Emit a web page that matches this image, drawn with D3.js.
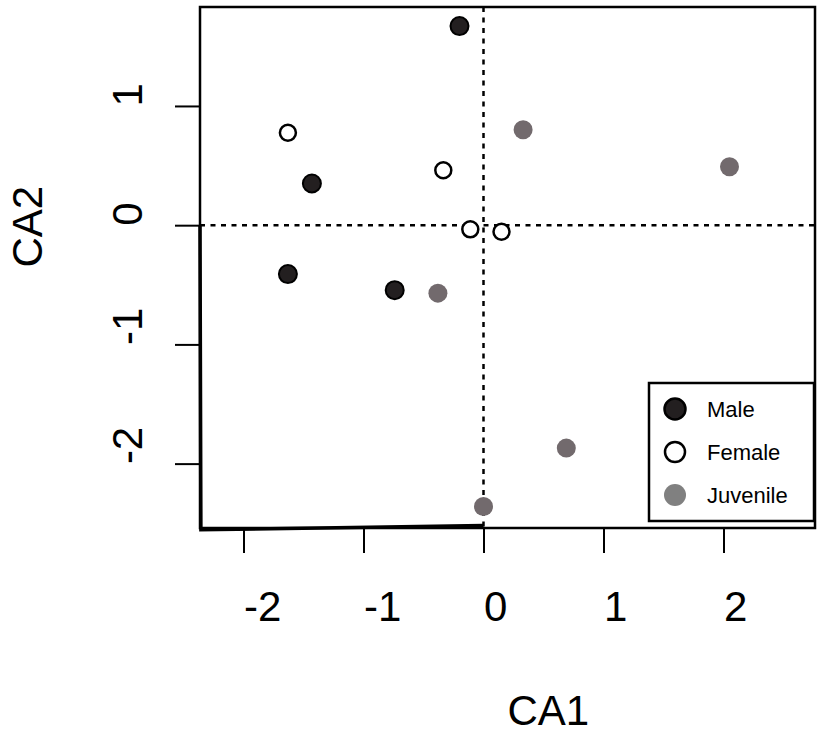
<!DOCTYPE html>
<html>
<head>
<meta charset="utf-8">
<script src="https://cdn.jsdelivr.net/npm/d3@7"></script>
<style>
  body { margin: 0; background: #fff; }
  svg { display: block; }
  text { font-family: "Liberation Sans", Arial, Helvetica, sans-serif; fill: #000; }
</style>
</head>
<body>
<div id="chart"></div>
<script>
  // group of each sample
  const groups = ["Male", "Female", "Juvenile"];

  // CA scores
  const maleCA1 = [-0.20, -1.43, -1.63, -0.74];
  const maleCA2 = [1.67, 0.35, -0.41, -0.545];
  const femaleCA1 = [-1.63, -0.335, -0.11, 0.15];
  const femaleCA2 = [0.775, 0.46, -0.035, -0.055];
  const juvCA1 = [0.33, 2.05, -0.38, 0.00, 0.69];
  const juvCA2 = [0.80, 0.49, -0.57, -2.36, -1.87];

  const xTicks = [-2, -1, 0, 1, 2];
  const yTicks = [-2, -1, 0, 1];
  const xLimits = [-2.3625, 2.7625];
  const yLimits = [-2.54, 1.83];

  // the heavy stroke that runs along the lower-left corner of the box
  const cornerTrace = [[-2.3625, 0], [-2.355, -2.555], [0, -2.52]];

  const width = 817, height = 734;
  const box = {left: 200, right: 815, top: 7, bottom: 528};

  const svg = d3.select("#chart").append("svg")
    .attr("width", width)
    .attr("height", height);

  const x = d3.scaleLinear().domain(xLimits).range([box.left, box.right]);
  const y = d3.scaleLinear().domain(yLimits).range([box.bottom, box.top]);

  // plain hyphen minus, like the original
  const fmt = d => String(d);

  // style of each group, for points and legend
  const style = {
    Male: {fill: "#231f20", stroke: "#000", sw: 2, r: 9, lfill: "#231f20", lstroke: "#000", lr: 10.5},
    Female: {fill: "#fff", stroke: "#000", sw: 2.5, r: 8, lfill: "#fff", lstroke: "#000", lr: 10},
    Juvenile: {fill: "#726a6d", stroke: "none", sw: 0, r: 9.5, lfill: "#808080", lstroke: "none", lr: 11}
  };

  const points = [];
  maleCA1.forEach((v, i) => points.push({group: "Male", ca1: v, ca2: maleCA2[i]}));
  femaleCA1.forEach((v, i) => points.push({group: "Female", ca1: v, ca2: femaleCA2[i]}));
  juvCA1.forEach((v, i) => points.push({group: "Juvenile", ca1: v, ca2: juvCA2[i]}));

  // dotted reference lines through the origin
  svg.append("line")
    .attr("x1", x(0)).attr("x2", x(0))
    .attr("y1", box.top).attr("y2", box.bottom)
    .attr("stroke", "#000").attr("stroke-width", 2.5)
    .attr("stroke-dasharray", "5,5.5");
  svg.append("line")
    .attr("x1", box.left).attr("x2", box.right)
    .attr("y1", y(0)).attr("y2", y(0))
    .attr("stroke", "#000").attr("stroke-width", 2.5)
    .attr("stroke-dasharray", "5,5.5");

  // points
  svg.append("g").selectAll("circle")
    .data(points)
    .join("circle")
    .attr("cx", d => x(d.ca1))
    .attr("cy", d => y(d.ca2))
    .attr("r", d => style[d.group].r)
    .attr("fill", d => style[d.group].fill)
    .attr("stroke", d => style[d.group].stroke)
    .attr("stroke-width", d => style[d.group].sw);

  // plot box
  svg.append("rect")
    .attr("x", box.left).attr("y", box.top)
    .attr("width", box.right - box.left)
    .attr("height", box.bottom - box.top)
    .attr("fill", "none")
    .attr("stroke", "#000")
    .attr("stroke-width", 2.5);

  svg.append("path")
    .attr("d", d3.line().x(d => x(d[0])).y(d => y(d[1]))(cornerTrace))
    .attr("fill", "none")
    .attr("stroke", "#000")
    .attr("stroke-width", 3.5);

  // axes (labels in the original start at the tick instead of centring on it)
  const xAxis = svg.append("g")
    .attr("transform", `translate(0,${box.bottom})`)
    .call(d3.axisBottom(x).tickValues(xTicks).tickSize(25).tickFormat(fmt));
  xAxis.select(".domain").remove();
  xAxis.selectAll(".tick line").attr("stroke", "#000").attr("stroke-width", 2);
  xAxis.selectAll(".tick text")
    .attr("x", 0).attr("y", 93).attr("dy", 0)
    .attr("text-anchor", "start")
    .attr("font-size", 42)
    .style("font-family", "'Liberation Sans', Arial, sans-serif");

  const yAxis = svg.append("g")
    .attr("transform", `translate(${box.left},0)`)
    .call(d3.axisLeft(y).tickValues(yTicks).tickSize(25).tickFormat(fmt));
  yAxis.select(".domain").remove();
  yAxis.selectAll(".tick line").attr("stroke", "#000").attr("stroke-width", 2);
  yAxis.selectAll(".tick text")
    .attr("x", 0).attr("dy", 0)
    .attr("text-anchor", "start")
    .attr("transform", "translate(-58,0) rotate(-90)")
    .attr("font-size", 42)
    .style("font-family", "'Liberation Sans', Arial, sans-serif");

  // axis titles
  svg.append("text")
    .attr("x", (box.left + box.right) / 2).attr("y", 725)
    .attr("text-anchor", "start")
    .attr("font-size", 42)
    .text("CA1");
  svg.append("text")
    .attr("transform", `translate(42,${(box.top + box.bottom) / 2}) rotate(-90)`)
    .attr("text-anchor", "start")
    .attr("font-size", 42)
    .text("CA2");

  // legend
  const legend = svg.append("g").attr("transform", "translate(649,383)");
  legend.append("rect")
    .attr("width", 165).attr("height", 138)
    .attr("fill", "#fff")
    .attr("stroke", "#000")
    .attr("stroke-width", 2.5);
  const item = legend.selectAll("g.item")
    .data(groups)
    .join("g")
    .attr("class", "item")
    .attr("transform", (d, i) => `translate(26,${26 + i * 43})`);
  item.append("circle")
    .attr("r", d => style[d].lr)
    .attr("fill", d => style[d].lfill)
    .attr("stroke", d => style[d].lstroke)
    .attr("stroke-width", 2.5);
  item.append("text")
    .attr("x", 32).attr("y", 8)
    .attr("font-size", 22)
    .text(d => d);
</script>
</body>
</html>
